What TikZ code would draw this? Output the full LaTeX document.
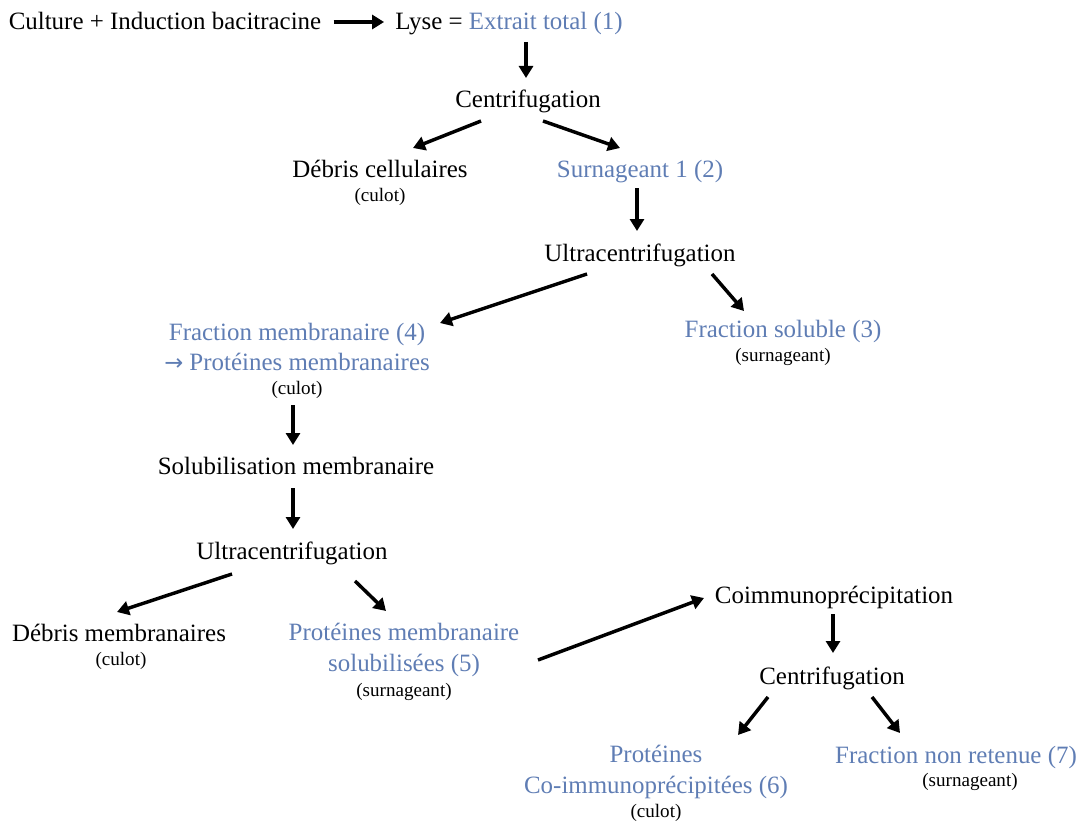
\documentclass[tikz,border=0pt]{standalone}
\usepackage{fontspec}
\setmainfont{Liberation Serif}
\newfontfamily\arrowfont{DejaVu Sans}
\usepackage{tikz}
\usetikzlibrary{arrows.meta,calc}
\definecolor{fracblue}{RGB}{95,125,180}

\begin{document}
\begin{tikzpicture}[x=0.75pt,y=0.75pt,yscale=-1,xscale=1,
  txt/.style={inner sep=0.75pt,align=center,text height=1.3em,text depth=0.18em,font=\fontsize{18.7pt}{23pt}\selectfont},
  twoline/.style={text height=,text depth=},
  note/.style={inner sep=0.75pt,align=center,text height=1.2em,text depth=0.18em,font=\fontsize{14.3pt}{16pt}\selectfont},
  frac/.style={txt,text=fracblue},
  arr/.style={line width=2.6pt,-{Triangle[length=9pt,width=10.5pt]}}]
\useasboundingbox (0,0) rectangle (1080,820);

% Text Node
\node [txt] (culture) at (165,22) {Culture + Induction bacitracine};
% Text Node
\node [txt] (lyse) at (509,22) {Lyse = {\color{fracblue}Extrait total (1)}};
% Text Node
\node [txt] (cent1) at (528,100) {Centrifugation};
% Text Node
\node [txt] (debrisc) at (380,170) {Débris cellulaires};
\node [note] (debrisc-n) at (380,195) {(culot)};
% Text Node
\node [frac] (surn) at (640,170) {Surnageant 1 (2)};
% Text Node
\node [txt] (ultra1) at (640,254) {Ultracentrifugation};
% Text Node
\node [frac,twoline] (fracm) at (297,347) {Fraction membranaire (4)\\{\arrowfont\fontsize{17pt}{17pt}\selectfont →} Protéines membranaires};
\node [note] (fracm-n) at (297,388) {(culot)};
% Text Node
\node [frac] (fracs) at (783,330) {Fraction soluble (3)};
\node [note] (fracs-n) at (783,355) {(surnageant)};
% Text Node
\node [txt] (solub) at (296,467) {Solubilisation membranaire};
% Text Node
\node [txt] (ultra2) at (292,552) {Ultracentrifugation};
% Text Node
\node [txt] (debrism) at (119,634) {Débris membranaires};
\node [note] (debrism-n) at (121,659) {(culot)};
% Text Node
\node [frac,twoline] (protm) at (404,650) {Protéines membranaire\\solubilisées (5)};
\node [note] (protm-n) at (404,690) {(surnageant)};
% Text Node
\node [txt] (coimm) at (834,596) {Coimmunoprécipitation};
% Text Node
\node [txt] (cent2) at (832,677) {Centrifugation};
% Text Node
\node [frac,twoline] (protc) at (656,772) {Protéines\\Co-immunoprécipitées (6)};
\node [note] (protc-n) at (656,811) {(culot)};
% Text Node
\node [frac] (fracnr) at (956,756) {Fraction non retenue (7)};
\node [note] (fracnr-n) at (970,780) {(surnageant)};

%Straight Lines
\draw [arr] ($(culture.east)+(11,0)$) -- ($(lyse.west)+(-10,0)$);
\draw [arr] ($(lyse)+(17,20)$) -- ($(cent1)+(-2,-22)$);
\draw [arr] ($(cent1)+(-47,21)$) -- ($(debrisc)+(33,-22)$);
\draw [arr] ($(cent1)+(15,21)$) -- ($(surn)+(-20,-22)$);
\draw [arr] ($(surn)+(-3,18)$) -- ($(ultra1)+(-3,-23)$);
\draw [arr] ($(ultra1)+(-53,20)$) -- ($(fracm)+(143,-24)$);
\draw [arr] ($(ultra1)+(72,20)$) -- ($(fracs)+(-39,-19)$);
\draw [arr] ($(fracm-n)+(-4,17)$) -- ($(solub)+(-3,-22)$);
\draw [arr] ($(solub)+(-3,21)$) -- ($(ultra2)+(1,-23)$);
\draw [arr] ($(ultra2)+(-60,22)$) -- ($(debrism)+(-2,-22)$);
\draw [arr] ($(ultra2)+(63,29)$) -- ($(protm)+(-18,-39)$);
\draw [arr] ($(protm)+(134,10)$) -- ($(coimm)+(-130,2)$);
\draw [arr] ($(coimm)+(-1,18)$) -- ($(cent2)+(1,-24)$);
\draw [arr] ($(cent2)+(-64,20)$) -- ($(protc)+(82,-37)$);
\draw [arr] ($(cent2)+(40,20)$) -- ($(fracnr)+(-56,-23)$);
\end{tikzpicture}
\end{document}
